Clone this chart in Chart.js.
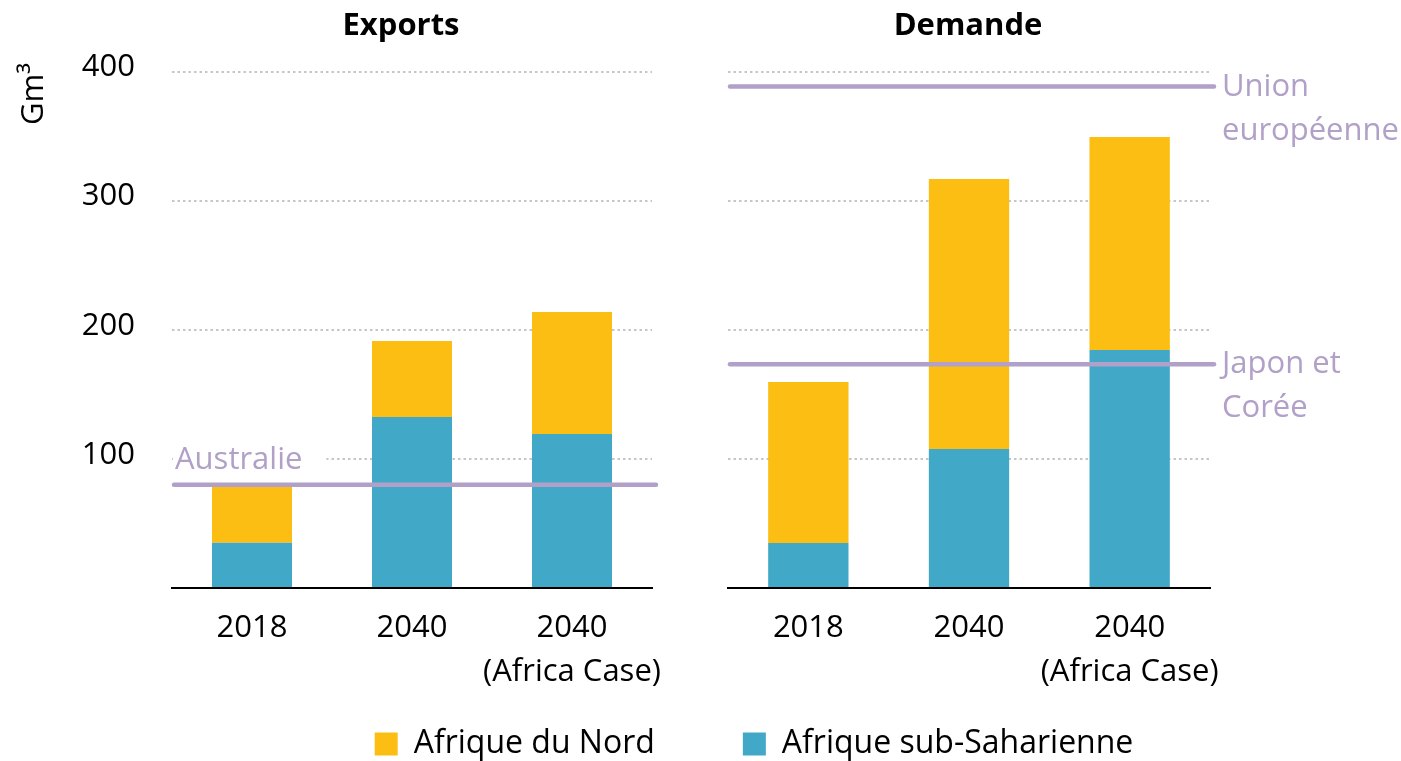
<!DOCTYPE html>
<html>
<head>
<meta charset="utf-8">
<script src="https://cdn.jsdelivr.net/npm/chart.js@4.4.1/dist/chart.umd.min.js"></script>
<style>
html, body { margin: 0; padding: 0; overflow: hidden; background: #fff; width: 1401px; height: 761px; }
#wrap { position: relative; width: 1401px; height: 761px; overflow: hidden; }
#c1 { position: absolute; left: 0; top: 0; }
#c2 { position: absolute; left: 107px; top: 0; }
</style>
</head>
<body>
<div id="wrap">
  <canvas id="c1" width="700" height="761"></canvas>
  <canvas id="c2" width="1294" height="770"></canvas>
</div>
<script>
// ---- Data ----
const categories = [['2018'], ['2040'], ['2040', '(Africa Case)']];
const seriesNames = ['Afrique du Nord', 'Afrique sub-Saharienne'];
const exportsNord = [43.4, 58.8, 94.5];
const exportsSub = [35.1, 132.5, 119.3];
const demandeNord = [124.7, 209.1, 164.9];
const demandeSub = [34.9, 107.7, 184.4];
const yTicks = [100, 200, 300, 400];
const exportsRefNames = [['Australie']];
const exportsRefValues = [80];
const demandeRefNames = [['Union', 'européenne'], ['Japon et', 'Corée']];
const demandeRefValues = [388.3, 173.3];
const panelTitles = ['Exports', 'Demande'];
const unitLabel = 'Gm³';

// ---- Styles ----
const YELLOW = '#FCBE12';
const TEAL = '#41A9C7';
const LILAC = '#B1A0C7';
const GRID = '#C6C6C6';
const FONT = '"Open Sans", "Liberation Sans", sans-serif';

Chart.defaults.font.family = FONT;
Chart.defaults.color = '#000';

const overlay = {
  id: 'overlay',
  afterDatasetsDraw(chart, args, opts) {
    const { ctx, chartArea: a } = chart;
    const y = chart.scales.y;
    ctx.save();
    (opts.refValues || []).forEach((v, i) => {
      const py = y.getPixelForValue(v);
      const lines = opts.refNames[i];
      ctx.font = '31px ' + FONT;
      ctx.textAlign = 'left';
      ctx.textBaseline = 'alphabetic';
      if (opts.labelMode === 'above') {
        const w = ctx.measureText(lines[0]).width;
        ctx.fillStyle = '#fff';
        ctx.fillRect(a.left + 1, py - 48, w + 26, 38);
      }
      ctx.strokeStyle = LILAC;
      ctx.lineWidth = 4.5;
      ctx.lineCap = 'round';
      ctx.beginPath();
      ctx.moveTo(a.left + 2, py);
      ctx.lineTo(a.right + 4, py);
      ctx.stroke();
      ctx.fillStyle = LILAC;
      if (opts.labelMode === 'above') {
        ctx.fillText(lines[0], a.left + 3, py - 16);
      } else {
        lines.forEach((t, j) => ctx.fillText(t, a.right + 12, py + 9 + j * 44));
      }
    });
    ctx.fillStyle = '#000';
    ctx.font = 'bold 31px ' + FONT;
    ctx.textAlign = 'center';
    ctx.textBaseline = 'alphabetic';
    ctx.fillText(opts.title, a.left + opts.titleOffset, 35);
    if (opts.unit) {
      ctx.translate(43, 125);
      ctx.rotate(-Math.PI / 2);
      ctx.font = '31px ' + FONT;
      ctx.textAlign = 'left';
      ctx.fillText(opts.unit, 0, 0);
    }
    ctx.restore();
  }
};

function buildChart(canvas, cfg) {
  const scales = {
    x: {
      stacked: true,
      grid: { display: false, drawTicks: false },
      border: { display: true, color: '#000', width: 2 },
      ticks: { color: '#000', font: { size: 31, lineHeight: 1.42 }, padding: 18, maxRotation: 0, autoSkip: false },
      afterFit: s => {
        s.height = cfg.xHeight;
        // let the two-line tick labels run below the (short) axis box
        s._computeLabelArea = function () { return undefined; };
      }
    },
    y: {
      stacked: true,
      min: 0,
      max: 400,
      afterBuildTicks: s => { s.ticks = [0].concat(yTicks).map(v => ({ value: v })); },
      grid: {
        color: c => (c.tick && c.tick.value === 0) ? 'rgba(0,0,0,0)' : GRID,
        lineWidth: 2,
        drawTicks: false
      },
      border: { display: false, dash: [2.5, 3] },
      ticks: {
        display: cfg.showYTicks,
        color: '#000',
        font: { size: 31 },
        padding: 37,
        labelOffset: -4,
        callback: v => (v === 0 ? '' : v)
      },
      afterFit: s => { s.width = cfg.yWidth; }
    }
  };
  if (cfg.rightWidth) {
    scales.yR = {
      type: 'linear',
      position: 'right',
      display: true,
      ticks: { display: false },
      grid: { display: false, drawTicks: false },
      border: { display: false },
      afterFit: s => { s.width = cfg.rightWidth; }
    };
  }
  return new Chart(canvas, {
    type: 'bar',
    data: {
      labels: categories,
      datasets: [
        { label: seriesNames[1], data: cfg.sub, backgroundColor: TEAL },
        { label: seriesNames[0], data: cfg.nord, backgroundColor: YELLOW }
      ]
    },
    options: {
      responsive: false,
      animation: false,
      events: [],
      layout: { padding: { top: 71.5, right: cfg.padRight, left: 0, bottom: 0 } },
      datasets: { bar: { barPercentage: 0.5, categoryPercentage: 1, borderWidth: 0 } },
      plugins: {
        legend: cfg.legend ? {
          display: true,
          position: 'bottom',
          reverse: true,
          labels: { boxWidth: 23, boxHeight: 23, padding: 88, color: '#000', font: { size: 32 } }
        } : { display: false },
        tooltip: { enabled: false },
        overlay: {
          refValues: cfg.refValues,
          refNames: cfg.refNames,
          labelMode: cfg.labelMode,
          title: cfg.title,
          titleOffset: cfg.titleOffset,
          unit: cfg.unit
        }
      },
      scales
    },
    plugins: [overlay]
  });
}

function draw() {
  buildChart(document.getElementById('c1'), {
    sub: exportsSub, nord: exportsNord,
    refValues: exportsRefValues, refNames: exportsRefNames, labelMode: 'above',
    title: panelTitles[0], titleOffset: 229, unit: unitLabel,
    showYTicks: true, yWidth: 172, padRight: 48, xHeight: 173, legend: false
  });
  // legend height = 32 + 88 + 10 = 130 -> legend top 640, items top 728
  buildChart(document.getElementById('c2'), {
    sub: demandeSub, nord: demandeNord,
    refValues: demandeRefValues, refNames: demandeRefNames, labelMode: 'right',
    title: panelTitles[1], titleOffset: 240, unit: null,
    showYTicks: false, yWidth: 621, rightWidth: 191, padRight: 0, xHeight: 52, legend: true
  });
}

Promise.all([
  document.fonts.load('31px "Open Sans"'),
  document.fonts.load('bold 31px "Open Sans"')
]).then(draw, draw);
</script>
</body>
</html>
